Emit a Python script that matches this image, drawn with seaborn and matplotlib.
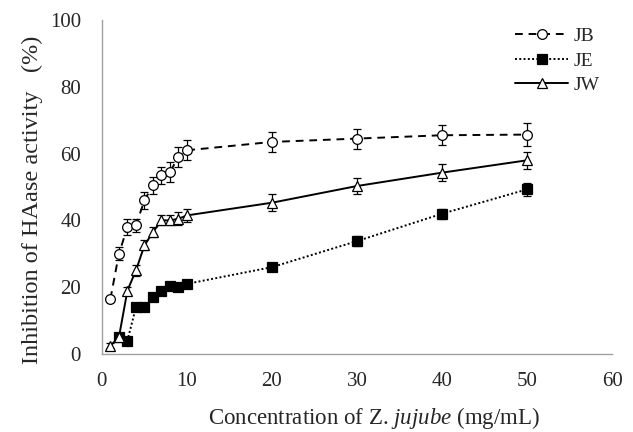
import matplotlib
matplotlib.use("Agg")
import matplotlib.pyplot as plt
import seaborn as sns
import pandas as pd

conc = [1, 2, 3, 4, 5, 6, 7, 8, 9, 10, 20, 30, 40, 50]

jb_conc = conc
jb_mean = [16.5, 30, 38, 38.5, 46, 50.5, 53.5, 54.5, 59, 61, 63.5, 64.5, 65.5, 65.7]
jb_err = [1, 2, 2.5, 2, 2.5, 2.5, 2.5, 3, 3, 3, 3, 3, 3, 3.5]

je_conc = conc[1:]
je_mean = [5, 4, 14, 14, 17, 19, 20.5, 20, 21, 26, 33.8, 42, 49.3]
je_err = [0.8, 0.8, 0.8, 0.8, 1, 1, 1, 1, 1, 1, 1.5, 1.5, 2]

jw_conc = conc
jw_mean = [2.5, 5, 19, 25, 32.5, 36.5, 40, 40, 40.5, 41.5, 45.3, 50.3, 54.3, 58]
jw_err = [0.8, 0.8, 1, 1.5, 1.5, 1.5, 1.5, 1.5, 2, 2, 2.5, 2.5, 2.5, 2.5]

sns.set_style("white")
plt.rcParams["font.family"] = ["Liberation Serif", "DejaVu Serif"]
plt.rcParams["mathtext.fontset"] = "custom"
plt.rcParams["mathtext.it"] = "Liberation Serif:italic"
plt.rcParams["mathtext.rm"] = "Liberation Serif"

fig = plt.figure(figsize=(6.33, 4.32), dpi=100)
ax = fig.add_axes([0.161, 0.1806, 0.806, 0.773])

series = [
    ("JB", jb_conc, jb_mean, jb_err, "o", "white", (0, (4, 3))),
    ("JE", je_conc, je_mean, je_err, "s", "black", (0, (1, 1.2))),
    ("JW", jw_conc, jw_mean, jw_err, "^", "white", "-"),
]

for name, x, y, e, mk, mfc, ls in series:
    df = pd.DataFrame({"x": x, "y": y})
    ax.errorbar(x, y, yerr=e, fmt="none", ecolor="black", elinewidth=0.9,
                capsize=3, capthick=0.9, zorder=2)
    sns.lineplot(data=df, x="x", y="y", ax=ax, color="black", linewidth=1.4,
                 linestyle=ls, marker=mk, markersize=7 if mk != "s" else 6.5,
                 markerfacecolor=mfc, markeredgecolor="black",
                 markeredgewidth=0.9, label=name, zorder=3)

ax.set_xlim(0, 60)
ax.set_ylim(0, 100)
ax.set_xticks(range(0, 61, 10))
ax.set_yticks(range(0, 101, 20))
for s in ["top", "right"]:
    ax.spines[s].set_visible(False)
for s in ["left", "bottom"]:
    ax.spines[s].set_color("#a0a0a0")
    ax.spines[s].set_linewidth(1.0)
ax.tick_params(axis="both", direction="in", length=5, color="#a0a0a0",
               labelsize=15, width=1.0)
ax.tick_params(axis="y", pad=15)
ax.tick_params(axis="x", pad=13)

ax.set_xlabel("Concentration of Z. $\\it{jujube}$ (mg/mL)", fontsize=16.5)
ax.xaxis.set_label_coords(0.533, -0.152)
ax.set_ylabel("Inhibition of HAase activity   (%)", fontsize=17.5)
ax.yaxis.set_label_coords(-0.116, 0.461)

leg = ax.legend(loc="upper right", frameon=False, fontsize=14, handlelength=2.7,
                handletextpad=0.3, labelspacing=0.35, bbox_to_anchor=(1.01, 1.03))

fig.savefig("out.png", dpi=100)
